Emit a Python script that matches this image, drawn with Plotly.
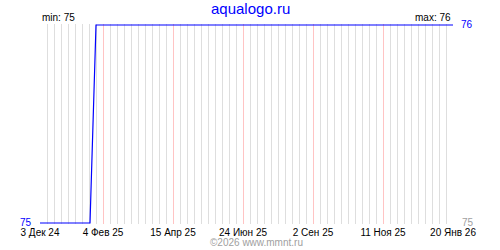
import plotly.graph_objects as go

# Data
dates = ["2024-12-03", "2025-01-22", "2025-01-28", "2026-01-20"]
values = [75, 75, 76, 76]

tick_dates = ["2024-12-03", "2025-02-04", "2025-04-15", "2025-06-24",
              "2025-09-02", "2025-11-11", "2026-01-20"]
tick_labels = ["3 Дек 24", "4 Фев 25", "15 Апр 25", "24 Июн 25",
               "2 Сен 25", "11 Ноя 25", "20 Янв 26"]

y_min, y_max = 75, 76
title_text = "aqualogo.ru"
credit_text = "©2026 www.mmnt.ru"

FONT = "Liberation Sans"
DAY_MS = 86400000

fig = go.Figure()
fig.add_trace(go.Scatter(
    x=dates, y=values, mode="lines",
    line=dict(color="#0000ff", width=1.2),
    hoverinfo="skip", showlegend=False,
))

pad = (y_max - y_min) / 200.0

fig.update_layout(
    width=500, height=250,
    margin=dict(l=40, r=47, t=24, b=24, pad=0),
    paper_bgcolor="white", plot_bgcolor="white",
    font=dict(family=FONT, size=10, color="black"),
    xaxis=dict(
        type="date",
        range=[tick_dates[0], tick_dates[-1]],
        tickmode="array", tickvals=tick_dates, ticktext=tick_labels,
        showgrid=True, gridcolor="#ffc4c4", gridwidth=1,
        ticks="", showline=False, zeroline=False, ticklabelstandoff=1,
        tickfont=dict(family=FONT, size=10, color="black"),
        minor=dict(tickmode="linear", tick0=tick_dates[0], dtick=7 * DAY_MS,
                   showgrid=True, gridcolor="#dedede", gridwidth=1, ticks=""),
    ),
    yaxis=dict(
        range=[y_min - pad, y_max + pad],
        tickmode="array", tickvals=[y_min, y_max],
        showticklabels=False, showgrid=True, gridcolor="#dddddd",
        ticks="", showline=False, zeroline=False,
    ),
    annotations=[
        dict(text=title_text, xref="paper", yref="paper", x=0.5, y=1,
             xanchor="center", yanchor="bottom", yshift=5, xshift=4, showarrow=False,
             font=dict(family=FONT, size=15, color="#0000ff")),
        dict(text="min: " + str(min(values)), xref="paper", yref="paper", x=0, y=1,
             xanchor="left", yanchor="bottom", xshift=0, yshift=-1, showarrow=False,
             font=dict(family=FONT, size=10, color="black")),
        dict(text="max: " + str(max(values)), xref="paper", yref="paper", x=1, y=1,
             xanchor="right", yanchor="bottom", xshift=0, yshift=-1, showarrow=False,
             font=dict(family=FONT, size=10, color="black")),
        dict(text=str(y_max), xref="paper", yref="y", x=1, y=y_max,
             xanchor="left", yanchor="middle", xshift=6, showarrow=False,
             font=dict(family=FONT, size=10, color="#0000ff")),
        dict(text=str(y_min), xref="paper", yref="y", x=0, y=y_min,
             xanchor="right", yanchor="middle", xshift=-6, yshift=1, showarrow=False,
             font=dict(family=FONT, size=10, color="#0000ff")),
        dict(text=str(y_min), xref="paper", yref="y", x=1, y=y_min,
             xanchor="left", yanchor="middle", xshift=7, yshift=1, showarrow=False,
             font=dict(family=FONT, size=10, color="#a0a0a0")),
        dict(text=credit_text, xref="paper", yref="paper", x=0.5, y=0,
             xanchor="center", yanchor="top", xshift=10, yshift=-11, showarrow=False,
             font=dict(family=FONT, size=10, color="#a0a0a0")),
    ],
)

fig.write_html("out.html")
